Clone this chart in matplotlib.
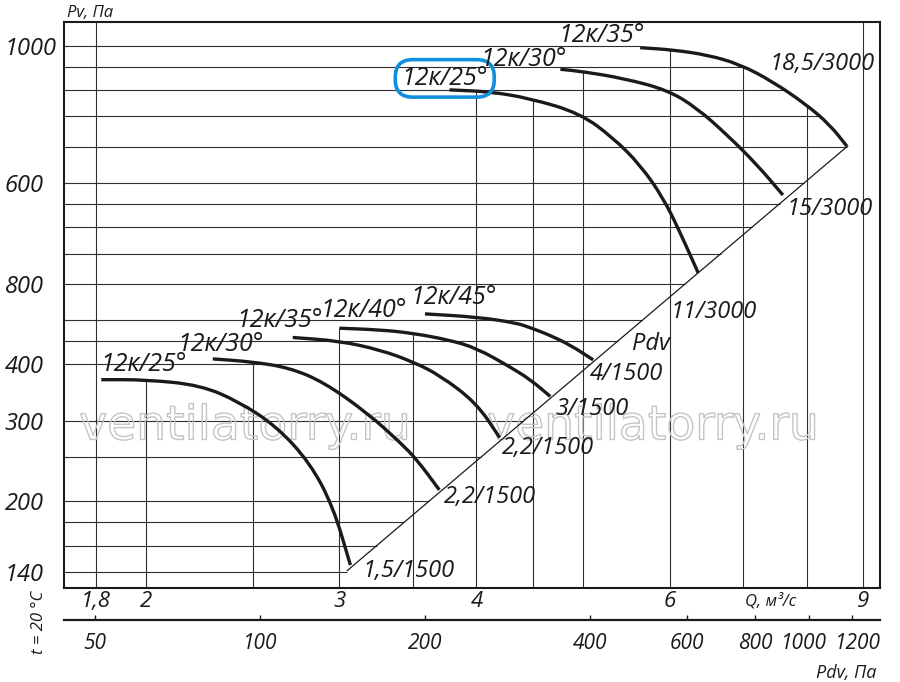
import numpy as np
import matplotlib
matplotlib.use("Agg")
import matplotlib.pyplot as plt
import matplotlib.ticker as mticker
import matplotlib.patheffects as pe
from matplotlib.path import Path
from matplotlib.patches import PathPatch
from matplotlib.transforms import ScaledTranslation

plt.rcParams['font.family'] = ['Open Sans', 'DejaVu Sans']
plt.rcParams['font.style'] = 'italic'

# =========================================================
# DATA  (Q in m3/s, Pv in Pa)
# =========================================================

# 1500 rpm
q_25_1500 = [1.82, 2.00, 2.24, 2.43, 2.63, 2.82, 2.96, 3.07]
p_25_1500 = [370, 370, 360, 331, 292, 243, 195, 145]
q_30_1500 = [2.30, 2.50, 2.70, 2.90, 3.18, 3.41, 3.53, 3.70]
p_30_1500 = [411, 405, 393, 366, 313, 269, 247, 212]
q_35_1500 = [2.72, 3.00, 3.27, 3.50, 3.70, 4.00, 4.20]
p_35_1500 = [458, 450, 430, 405, 379, 329, 276]
q_40_1500 = [3.00, 3.27, 3.50, 3.78, 4.00, 4.29, 4.48, 4.67]
p_40_1500 = [480, 476, 468, 452, 434, 395, 370, 340]
q_45_1500 = [3.59, 4.00, 4.35, 4.48, 4.64, 4.87, 5.11]
p_45_1500 = [516, 508, 493, 481, 466, 441, 409]

# 3000 rpm
q_25_3000 = [3.78, 4.11, 4.47, 4.97, 5.33, 5.64, 5.92, 6.13, 6.37]
p_25_3000 = [1601, 1587, 1535, 1423, 1256, 1096, 927, 781, 635]
q_30_3000 = [4.77, 5.00, 5.44, 5.97, 6.35, 6.77, 7.21, 7.61]
p_30_3000 = [1777, 1756, 1698, 1601, 1462, 1275, 1096, 941]
q_35_3000 = [5.64, 6.04, 6.49, 6.95, 7.45, 8.00, 8.40, 8.70]
p_35_3000 = [1982, 1960, 1911, 1823, 1669, 1484, 1341, 1206]

angle_labels = ['12к/25°', '12к/30°', '12к/35°', '12к/40°', '12к/45°',
                '12к/25°', '12к/30°', '12к/35°']
power_labels = ['1,5/1500', '2,2/1500', '2,2/1500', '3/1500', '4/1500',
                '11/3000', '15/3000', '18,5/3000']

# Pdv line (dynamic pressure)
diag_q = [3.05, 8.72]
diag_p = [141, 1206]

# grid
q_grid = [1.8, 2, 2.5, 3, 3.5, 4, 4.5, 5, 6, 7, 8, 9]
p_grid = [2000, 1800, 1600, 1400, 1200, 1000, 900, 800, 700, 600,
          500, 450, 400, 300, 250, 200, 180, 160, 140]

# ticks
q_ticks = [1.8, 2, 3, 4, 6, 9]
q_tick_labels = ['1,8', '2', '3', '4', '6', '9']
p_ticks = [2000, 1000, 600, 400, 300, 200, 140]
p_tick_labels = ['1000', '600', '800', '400', '300', '200', '140']
pdv_ticks = [50, 100, 200, 400, 600, 800, 1000, 1200]
pdv_tick_labels = ['50', '100', '200', '400', '600', '800', '1000', '1200']

K_PDV = 15.5          # Pdv = K * Q^2
Q_MIN, Q_MAX = 1.683, 9.33
P_MIN, P_MAX = 128.9, 2253

curves = [
    (q_25_1500, p_25_1500), (q_30_1500, p_30_1500), (q_35_1500, p_35_1500),
    (q_40_1500, p_40_1500), (q_45_1500, p_45_1500),
    (q_25_3000, p_25_3000), (q_30_3000, p_30_3000), (q_35_3000, p_35_3000),
]

# label offsets (pixels) from curve start / curve end
angle_offsets = [(-1, 9), (-35, 8), (-56, 10), (-19, 11), (-15, 10),
                 (-48, 5), (-80, 3), (-82, 6)]
power_offsets = [(12, -12), (5, -13), (2, -16), (5, -19), (-3, -20),
                 (-28, -45), (4, -20), (-77, 76)]

INK = '#1a1a1a'
GRID = '#2e2e2e'


def smooth_path(q, p):
    """Polyline through the read points, corners rounded with quadratic
    Bezier segments (points act as control points, log-space midpoints)."""
    pts = list(zip(q, p))
    mids = [(np.sqrt(a[0] * b[0]), np.sqrt(a[1] * b[1]))
            for a, b in zip(pts[:-1], pts[1:])]
    verts = [pts[0], mids[0]]
    codes = [Path.MOVETO, Path.LINETO]
    for k in range(1, len(pts) - 1):
        verts += [pts[k], mids[k]]
        codes += [Path.CURVE3, Path.CURVE3]
    verts.append(pts[-1])
    codes.append(Path.LINETO)
    return Path(verts, codes)


# =========================================================
# FIGURE
# =========================================================

fig = plt.figure(figsize=(9, 6.82), dpi=100)
ax = fig.add_axes([64 / 900, 1 - 588.3 / 682, 816 / 900, 566 / 682])
ax.set_xscale('log')
ax.set_yscale('log')
ax.set_xlim(Q_MIN, Q_MAX)
ax.set_ylim(P_MIN, P_MAX)

for s in ax.spines.values():
    s.set_linewidth(1.5)
    s.set_color(INK)

# ---------------------------------------------------------
# grid clipped by the curves / Pdv line
# ---------------------------------------------------------

for q in q_grid:
    tops = [np.exp(np.interp(np.log(q), np.log(cq), np.log(cp)))
            for cq, cp in curves if cq[0] - 1e-9 <= q <= cq[-1]]
    top = max(tops) if tops else P_MAX
    ax.vlines(q, P_MIN, top, color=GRID, lw=0.8, zorder=1)

for p in p_grid:
    if p <= diag_p[-1]:
        right = np.exp(np.interp(np.log(p), np.log(diag_p), np.log(diag_q)))
    else:
        right = np.exp(np.interp(np.log(p), np.log(p_35_3000[::-1]),
                                 np.log(q_35_3000[::-1])))
    ax.hlines(p, Q_MIN, right, color=GRID, lw=0.8, zorder=1)

# ---------------------------------------------------------
# watermark
# ---------------------------------------------------------

for wx in [0.222, 0.722]:
    ax.text(wx, 0.285, 'ventilatorry.ru', transform=ax.transAxes,
            ha='center', va='center', fontsize=34, family='DejaVu Sans',
            style='normal', color='none', zorder=2,
            path_effects=[pe.Stroke(linewidth=1.0, foreground='#c4c4c4')])

# ---------------------------------------------------------
# curves and Pdv line
# ---------------------------------------------------------

ax.plot(diag_q, diag_p, color=INK, lw=0.9, zorder=3)

for i, (cq, cp) in enumerate(curves):
    ax.add_patch(PathPatch(smooth_path(cq, cp), fill=False, ec=INK, lw=2.4,
                           capstyle='butt', joinstyle='round', zorder=4))

    bbox = None
    if i == 5:
        bbox = dict(boxstyle='round,pad=0.25,rounding_size=0.7',
                    fc='none', ec='#0f8fdc', lw=2.6)
    ax.annotate(angle_labels[i], xy=(cq[0], cp[0]), xytext=angle_offsets[i],
                textcoords='offset pixels', ha='left', va='baseline',
                fontsize=18, color=INK, bbox=bbox, zorder=5)
    ax.annotate(power_labels[i], xy=(cq[-1], cp[-1]), xytext=power_offsets[i],
                textcoords='offset pixels', ha='left', va='baseline',
                fontsize=17, color=INK, zorder=5)

ax.text(5.54, 430, 'Pdv', ha='left', va='baseline', fontsize=17, color=INK)

# ---------------------------------------------------------
# axes ticks
# ---------------------------------------------------------

ax.set_xticks(q_ticks, q_tick_labels)
ax.set_yticks(p_ticks, p_tick_labels)
ax.xaxis.set_minor_locator(mticker.NullLocator())
ax.yaxis.set_minor_locator(mticker.NullLocator())
ax.tick_params(axis='x', length=0, pad=2.2, labelsize=16, colors=INK)
ax.tick_params(axis='y', length=0, pad=42.5, labelsize=17, colors=INK)
for lbl in ax.get_yticklabels():
    lbl.set_horizontalalignment('left')

# Pdv scale below
sec = ax.secondary_xaxis(
    -0.056,
    functions=(lambda q: K_PDV * np.asarray(q) ** 2,
               lambda p: np.sqrt(np.maximum(np.asarray(p), 1e-9) / K_PDV)))
sec.set_xticks(pdv_ticks, pdv_tick_labels)
sec.xaxis.set_minor_locator(mticker.NullLocator())
sec.tick_params(axis='x', direction='in', length=3.6, width=1.0,
                pad=9.5, labelsize=15, colors=INK)
sec.spines['bottom'].set_linewidth(1.6)
sec.spines['bottom'].set_color(INK)

nudges = {'1000': -5, '1200': 6}
for lbl in sec.get_xticklabels():
    dx = nudges.get(lbl.get_text(), 0)
    if dx:
        lbl.set_transform(lbl.get_transform()
                          + ScaledTranslation(dx / 100, 0, fig.dpi_scale_trans))

# axis captions
ax.text(0.0037, 1.0094, 'Pv, Па', transform=ax.transAxes, ha='left',
        va='baseline', fontsize=12, color=INK)
ax.text(0.8346, -0.031, 'Q, м³/с', transform=ax.transAxes, ha='left',
        va='baseline', fontsize=12, color=INK)
ax.text(0.996, -0.158, 'Pdv, Па', transform=ax.transAxes, ha='right',
        va='baseline', fontsize=13, color=INK)
ax.text(-0.0306, -0.0595, 't = 20 °C', transform=ax.transAxes, ha='center',
        va='center', rotation=90, fontsize=12, color=INK)

fig.savefig('out.png', dpi=100, facecolor='white')
